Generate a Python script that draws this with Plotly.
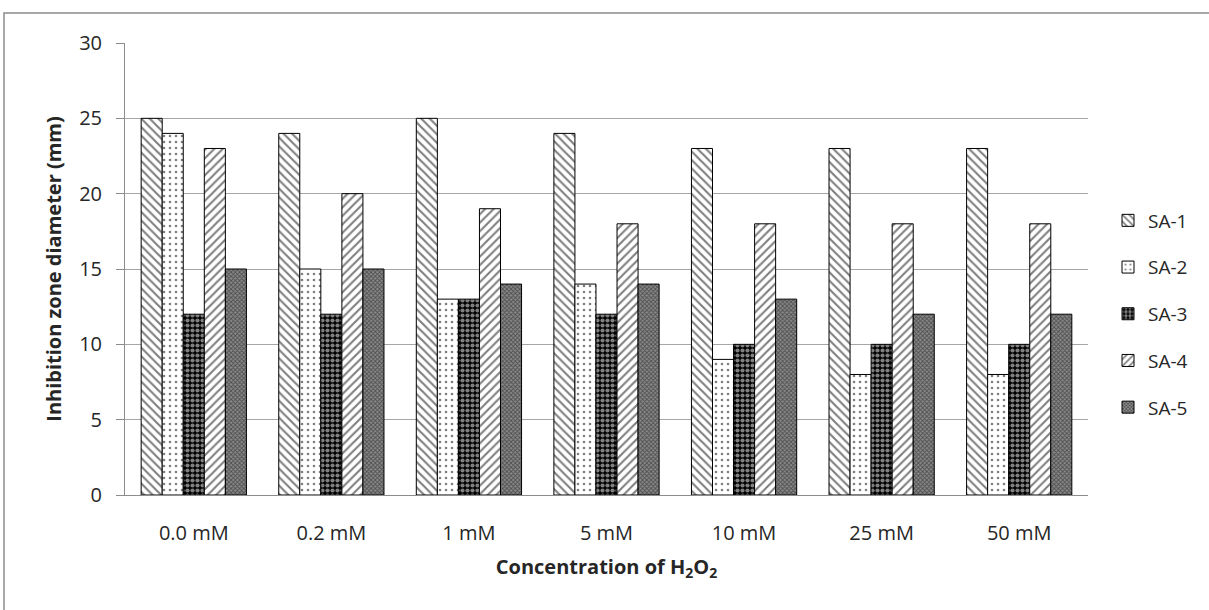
import plotly.graph_objects as go

categories = ["0.0 mM", "0.2 mM", "1 mM", "5 mM", "10 mM", "25 mM", "50 mM"]
sa1 = [25, 24, 25, 24, 23, 23, 23]
sa2 = [24, 15, 13, 14, 9, 8, 8]
sa3 = [12, 12, 13, 12, 10, 10, 10]
sa4 = [23, 20, 19, 18, 18, 18, 18]
sa5 = [15, 15, 14, 14, 13, 12, 12]
series_names = ["SA-1", "SA-2", "SA-3", "SA-4", "SA-5"]
series_values = [sa1, sa2, sa3, sa4, sa5]

patterns = [
    dict(shape="\\", fgcolor="black", bgcolor="white", size=6, solidity=0.35),
    dict(shape=".", fgcolor="black", bgcolor="white", size=6, solidity=0.15),
    dict(shape=".", fgcolor="white", bgcolor="black", size=5, solidity=0.55),
    dict(shape="/", fgcolor="black", bgcolor="white", size=6, solidity=0.35),
    dict(shape="x", fgcolor="#111111", bgcolor="#8a8a8a", size=3, solidity=0.5),
]

TXT = "#262626"
GRID = "#8c8c8c"

fig = go.Figure()
for i, (name, vals) in enumerate(zip(series_names, series_values)):
    fig.add_trace(go.Bar(
        x=categories, y=vals, name=name, legendgroup=name,
        marker=dict(color="white", pattern=patterns[i],
                    line=dict(color="black", width=1)),
    ))

L, R, T, B = 125, 1088, 43, 495
W, H = 1209, 610
pw, ph = R - L, B - T

fig.update_layout(
    width=W, height=H,
    margin=dict(l=L, r=W - R, t=T, b=H - B),
    paper_bgcolor="white", plot_bgcolor="white",
    barmode="group", bargap=0.235, bargroupgap=0,
    font=dict(family="Open Sans, Liberation Sans, sans-serif", size=19, color=TXT),
    showlegend=True,
    legend=dict(x=(1108 - L) / pw, y=1 - (314 - T) / ph, xanchor="left", yanchor="middle",
                tracegroupgap=19, font=dict(size=19, color=TXT),
                itemwidth=30, bgcolor="rgba(0,0,0,0)"),
    xaxis=dict(showline=True, linecolor=GRID, linewidth=1,
               ticks="", showgrid=False,
               tickfont=dict(size=20, color=TXT), ticklabelstandoff=20,
               title=dict(text="<b>Concentration of H<sub>2</sub>O<sub>2</sub></b>",
                          font=dict(size=20, color=TXT), standoff=14)),
    yaxis=dict(range=[0, 30], dtick=5, showline=True, linecolor=GRID,
               linewidth=1, ticks="outside", ticklen=8, tickcolor=GRID,
               showgrid=True, gridcolor="#a6a6a6", gridwidth=1,
               zeroline=False, tickfont=dict(size=20, color=TXT),
               ticklabelstandoff=10,
               title=dict(text="<b>Inhibition zone diameter (mm)</b>",
                          font=dict(size=20, color=TXT), standoff=12)),
)

fig.add_shape(type="rect", xref="paper", yref="paper",
              x0=(4 - L) / pw, x1=(1225 - L) / pw,
              y0=-(625 - B) / ph, y1=1 + (T - 13) / ph,
              line=dict(color="#8c8c8c", width=1.5), layer="below")

fig.write_html("out.html")
